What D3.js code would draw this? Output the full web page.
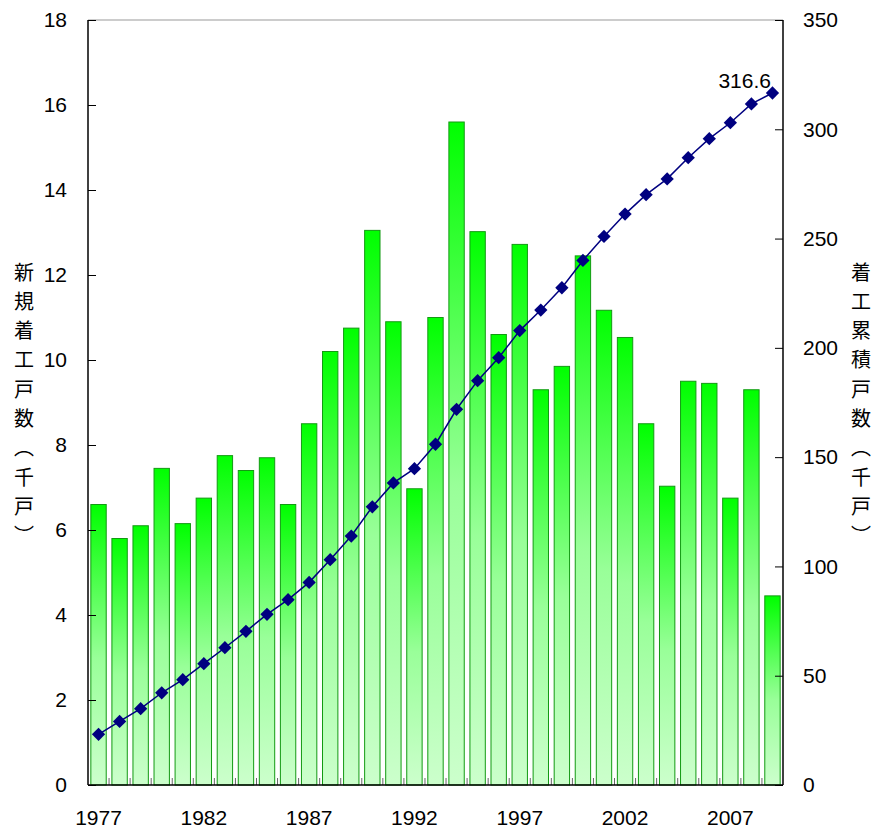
<!DOCTYPE html>
<html lang="ja">
<head>
<meta charset="UTF-8">
<title>着工戸数</title>
<script src="https://d3js.org/d3.v7.min.js"></script>
<style>
  body { margin: 0; background: #fff; }
  text { font-family: "Liberation Sans", Arial, sans-serif; fill: #000; }
  .jp { font-family: "Noto Sans CJK JP", sans-serif; }
</style>
</head>
<body>
<svg id="chart" width="874" height="832"></svg>
<script>
// years shown on the x axis
var years = d3.range(1977, 2010);
var yearLabels = [1977, 1982, 1987, 1992, 1997, 2002, 2007];

// new starts per year (thousand units), left axis
var newStarts = [6.6, 5.8, 6.1, 7.45, 6.15, 6.75, 7.75, 7.4, 7.7, 6.6,
                 8.5, 10.2, 10.75, 13.05, 10.9, 6.97, 11.0, 15.6, 13.02, 10.6,
                 12.72, 9.3, 9.85, 12.45, 11.17, 10.53, 8.5, 7.03, 9.5, 9.45,
                 6.75, 9.3, 4.45];

// cumulative starts (thousand units), right axis
var cumulative = [23.2, 29.1, 34.9, 42.2, 48.2, 55.5, 62.8, 70.3, 78.1, 84.8,
                  92.7, 103.1, 113.9, 127.3, 138.2, 144.7, 155.9, 171.9, 185.0, 195.5,
                  207.9, 217.3, 227.5, 240.0, 251.0, 261.2, 270.1, 277.3, 287.0, 295.7,
                  303.0, 311.6, 316.6];

var leftTicks = d3.range(0, 19, 2);
var rightTicks = d3.range(0, 351, 50);

var plotL = 88, plotR = 783, plotT = 20, plotB = 785;

var svg = d3.select("#chart");

var x = d3.scaleBand()
    .domain(years)
    .range([plotL, plotR])
    .paddingInner(0.27)
    .paddingOuter(0.135);

var yL = d3.scaleLinear().domain([0, 18]).range([plotB, plotT]);
var yR = d3.scaleLinear().domain([0, 350]).range([plotB, plotT]);

// bar gradient
var grad = svg.append("defs").append("linearGradient")
    .attr("id", "barGrad")
    .attr("x1", 0).attr("y1", 0).attr("x2", 0).attr("y2", 1);
grad.append("stop").attr("offset", "0%").attr("stop-color", "#00ff00");
grad.append("stop").attr("offset", "55%").attr("stop-color", "#99ff99");
grad.append("stop").attr("offset", "100%").attr("stop-color", "#ccffcc");

// top border
svg.append("line")
    .attr("x1", plotL).attr("x2", plotR)
    .attr("y1", plotT).attr("y2", plotT)
    .attr("stroke", "#999").attr("stroke-width", 1);

// bars
svg.append("g").selectAll("rect")
    .data(years)
    .enter().append("rect")
    .attr("x", function(d) { return x(d); })
    .attr("width", x.bandwidth())
    .attr("y", function(d, i) { return yL(newStarts[i]); })
    .attr("height", function(d, i) { return plotB - yL(newStarts[i]); })
    .attr("fill", "url(#barGrad)")
    .attr("stroke", "#139a13")
    .attr("stroke-width", 1);

// small ticks between bars on bottom axis
var step = x.step();
svg.append("g").selectAll("line")
    .data(d3.range(1, years.length))
    .enter().append("line")
    .attr("x1", function(k) { return plotL + k * step; })
    .attr("x2", function(k) { return plotL + k * step; })
    .attr("y1", plotB).attr("y2", plotB - 7)
    .attr("stroke", "#666").attr("stroke-width", 1);

// left axis
var gL = svg.append("g")
    .attr("transform", "translate(" + plotL + ",0)")
    .call(d3.axisLeft(yL).tickValues(leftTicks).tickSize(-8).tickPadding(21));
// right axis
var gR = svg.append("g")
    .attr("transform", "translate(" + plotR + ",0)")
    .call(d3.axisRight(yR).tickValues(rightTicks).tickSize(-8).tickPadding(20));
// bottom axis
var gB = svg.append("g")
    .attr("transform", "translate(0," + plotB + ")")
    .call(d3.axisBottom(x).tickValues(yearLabels).tickSize(0).tickPadding(25));

[gL, gR, gB].forEach(function(g) {
  g.select(".domain").attr("stroke", "#000").attr("stroke-width", 1.5);
  g.selectAll(".tick line").attr("stroke", "#000");
  g.selectAll("text")
    .style("font-family", "'Liberation Sans', Arial, sans-serif")
    .style("font-size", "21px")
    .attr("fill", "#000");
});
gB.select(".domain").attr("d", "M" + plotL + ",0H" + plotR);
gL.select(".domain").attr("d", "M0," + plotB + "V" + plotT);
gR.select(".domain").attr("d", "M0," + plotB + "V" + plotT);

// cumulative line
var cx = function(i) { return x(years[i]) + x.bandwidth() / 2; };
var line = d3.line()
    .x(function(d, i) { return cx(i); })
    .y(function(d) { return yR(d); });

svg.append("path")
    .datum(cumulative)
    .attr("d", line)
    .attr("fill", "none")
    .attr("stroke", "#000080")
    .attr("stroke-width", 1.5);

svg.append("g").selectAll("path")
    .data(cumulative)
    .enter().append("path")
    .attr("d", d3.symbol().type(d3.symbolSquare).size(88))
    .attr("transform", function(d, i) {
      return "translate(" + cx(i) + "," + yR(d) + ") rotate(45)";
    })
    .attr("fill", "#000080");

// last value label
svg.append("text")
    .attr("x", 771)
    .attr("y", 88)
    .attr("text-anchor", "end")
    .style("font-size", "21px")
    .text(cumulative[cumulative.length - 1].toFixed(1));

// axis titles, vertical
svg.append("text")
    .attr("class", "jp")
    .attr("x", 24).attr("y", 262)
    .attr("writing-mode", "vertical-rl")
    .style("font-size", "20px")
    .style("letter-spacing", "9.3px")
    .text("新規着工戸数（千戸）");

svg.append("text")
    .attr("class", "jp")
    .attr("x", 861).attr("y", 262)
    .attr("writing-mode", "vertical-rl")
    .style("font-size", "20px")
    .style("letter-spacing", "9.3px")
    .text("着工累積戸数（千戸）");
</script>
</body>
</html>
